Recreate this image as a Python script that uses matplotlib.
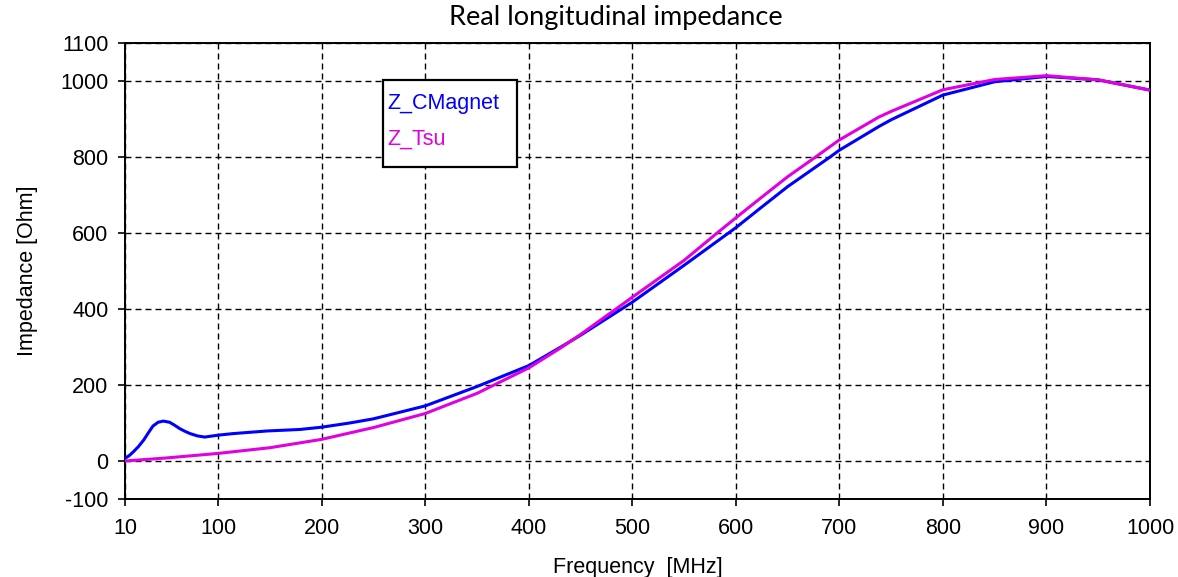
import matplotlib
matplotlib.use('Agg')
import matplotlib.pyplot as plt
from matplotlib.patches import Rectangle

plt.rcParams['axes.unicode_minus'] = False

# ── data ──────────────────────────────────────────────────────────────────────
freq_cmagnet = [10, 14, 18, 23, 28, 33, 37, 42, 47, 53, 58, 63, 68, 73, 80, 87,
                100, 114, 147, 179, 200, 227, 250, 300, 350, 400, 431, 450, 500,
                550, 600, 623, 650, 691, 700, 738, 750, 800, 850, 900, 950, 1000]
z_cmagnet = [7, 14, 24, 38, 55, 76, 92, 102, 105, 102, 94, 85, 78, 72, 66, 63,
             68, 72, 79, 83, 89, 100, 111, 145, 196, 251, 300, 331, 418,
             515, 614, 664, 722, 800, 818, 880, 898, 963, 998, 1012, 1003, 976]

freq_tsu = [10, 50, 100, 150, 200, 237, 250, 300, 350, 400, 431, 450, 500, 550,
            581, 600, 623, 650, 677, 700, 738, 750, 800, 850, 900, 950, 1000]
z_tsu = [0, 8, 20, 35, 57, 80, 88, 125, 178, 245, 298, 333, 431, 528,
         598, 640, 690, 748, 800, 845, 905, 920, 977, 1004, 1014, 1003, 976]

x_ticks = [10, 100, 200, 300, 400, 500, 600, 700, 800, 900, 1000]
y_ticks = [-100, 0, 200, 400, 600, 800, 1000, 1100]

BLUE = '#0000ff'
MAGENTA = '#e000e0'
tick_font = 'Liberation Sans'

fig = plt.figure(figsize=(11.78, 5.77), dpi=100)
ax = fig.add_axes([125 / 1178, 1 - 499 / 577, 1025 / 1178, 456 / 577])

ax.plot(freq_cmagnet, z_cmagnet, color=BLUE, linewidth=2.2, zorder=3)
ax.plot(freq_tsu, z_tsu, color=MAGENTA, linewidth=2.2, zorder=4)

ax.set_xlim(10, 1000)
ax.set_ylim(-100, 1100)
ax.set_xticks(x_ticks)
ax.set_yticks(y_ticks)
ax.grid(True, color='black', linestyle=(0, (4.3, 2.9)), linewidth=1.0)
ax.tick_params(direction='out', length=5, width=1.2, labelsize=15.5)
ax.tick_params(axis='x', pad=8.5)
ax.tick_params(axis='y', pad=7)
for lbl in ax.get_xticklabels() + ax.get_yticklabels():
    lbl.set_family(tick_font)
for sp in ax.spines.values():
    sp.set_linewidth(1.4)

ax.set_xlabel('Frequency  [MHz]', fontsize=15.5, family=tick_font, va='baseline')
ax.xaxis.set_label_coords(0.5, (499 - 573) / 456)
ax.set_ylabel('Impedance [Ohm]', fontsize=15.5, family=tick_font, va='center')
ax.yaxis.set_label_coords((28 - 125) / 1025, 0.5)

fig.text(616 / 1178, 1 - 18 / 577, 'Real longitudinal impedance',
         fontsize=19.5, family='Lato', ha='center', va='center')

# legend box drawn by hand: coloured names, no handles
box_x0 = (383 - 125) / 1025
box_y0 = (499 - 167) / 456
ax.add_patch(Rectangle((box_x0, box_y0), 134 / 1025, 87 / 456,
                       transform=ax.transAxes, facecolor='white',
                       edgecolor='black', linewidth=1.6, zorder=5))
ax.text((387 - 125) / 1025, (499 - 103) / 456, 'Z_CMagnet', color=BLUE,
        fontsize=15.5, family=tick_font, va='center', transform=ax.transAxes, zorder=6)
ax.text((387 - 125) / 1025, (499 - 139) / 456, 'Z_Tsu', color=MAGENTA,
        fontsize=15.5, family=tick_font, va='center', transform=ax.transAxes, zorder=6)

fig.savefig('out.png', dpi=100)
